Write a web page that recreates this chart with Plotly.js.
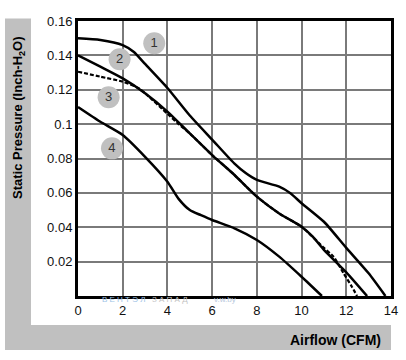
<!DOCTYPE html>
<html>
<head>
<meta charset="utf-8">
<script src="https://cdn.plot.ly/plotly-3.0.1.min.js"></script>
<style>html,body{margin:0;padding:0;background:#fff;}#chart{width:406px;height:360px;}</style>
</head>
<body>
<div id="chart"></div>
<script>
// Curve 1
const x1 = [0, 1, 2, 2.5, 3, 4, 5, 6, 7, 7.5, 8, 9, 9.5, 10, 11, 12, 13, 13.75];
const y1 = [0.150, 0.149, 0.146, 0.142, 0.135, 0.121, 0.105, 0.091, 0.077, 0.0715, 0.0675, 0.0636, 0.0598, 0.054, 0.0432, 0.028, 0.0132, 0];
// Curve 2
const x2 = [0, 1, 2, 3, 4, 5, 6, 7, 8, 9, 10, 10.5, 11, 12, 12.93];
const y2 = [0.140, 0.1334, 0.1266, 0.118, 0.1073, 0.0946, 0.082, 0.0704, 0.0578, 0.048, 0.0403, 0.0345, 0.0268, 0.0138, 0];
// Curve 3 (dashed)
const x3 = [0, 1, 2, 2.7, 3, 4, 4.5, 5, 6, 7, 8, 9, 10, 11, 11.43, 11.88, 12.25, 12.48];
const y3 = [0.1305, 0.1276, 0.1247, 0.121, 0.118, 0.106, 0.1, 0.0946, 0.082, 0.0704, 0.0578, 0.048, 0.0403, 0.028, 0.0229, 0.0132, 0.0054, 0];
// Curve 4
const x4 = [0, 1, 2, 3, 4, 4.5, 5, 5.5, 6, 7, 8, 9, 10, 10.91];
const y4 = [0.110, 0.1014, 0.0937, 0.081, 0.0665, 0.0565, 0.050, 0.047, 0.0442, 0.0394, 0.0326, 0.0229, 0.0112, 0];
// Curve labels
const labelX = [3.41, 1.86, 1.37, 1.52];
const labelY = [0.147, 0.1377, 0.1156, 0.0859];
const labelText = ['1', '2', '3', '4'];
// Ticks
const xTicks = [0, 2, 4, 6, 8, 10, 12, 14];
const yTicks = [0.02, 0.04, 0.06, 0.08, 0.1, 0.12, 0.14, 0.16];
const yTickText = ['0.02', '0.04', '0.06', '0.08', '0.1', '0.12', '0.14', '0.16'];

const lineStyle = {color: '#000', width: 2.5, shape: 'spline', smoothing: 0.6};
const traces = [
  {x: x3, y: y3, mode: 'lines', line: Object.assign({}, lineStyle, {dash: '4px,2px', width: 2.2}), hoverinfo: 'skip'},
  {x: x1, y: y1, mode: 'lines', line: lineStyle, hoverinfo: 'skip'},
  {x: x2, y: y2, mode: 'lines', line: lineStyle, hoverinfo: 'skip'},
  {x: x4, y: y4, mode: 'lines', line: lineStyle, hoverinfo: 'skip'},
  {x: labelX, y: labelY, mode: 'markers+text', text: labelText, textposition: 'middle center',
   marker: {size: 22, color: '#c0c0c0', line: {width: 0}},
   textfont: {family: 'Liberation Sans, Arial, sans-serif', size: 13, color: '#333'}, hoverinfo: 'skip'}
];

const fontTick = {family: 'Liberation Sans, Arial, sans-serif', size: 13, color: '#111'};
const L = 78, R = 15, T = 21, B = 64, W = 406 - L - R, H = 360 - T - B;
const px = v => (v - L) / W;
const py = v => (360 - B - v) / H;

const layout = {
  width: 406, height: 360,
  margin: {l: L, r: R, t: T, b: B, pad: 0},
  paper_bgcolor: '#fff', plot_bgcolor: '#fff',
  showlegend: false,
  xaxis: {range: [0, 14], tickvals: xTicks, ticks: '', showgrid: true, gridcolor: '#7a7a7a', gridwidth: 2,
          zeroline: false, showline: true, linecolor: '#000', linewidth: 3, mirror: true,
          tickfont: fontTick, ticklen: 0, fixedrange: true},
  yaxis: {range: [0, 0.16], tickvals: yTicks, ticktext: yTickText, ticks: '', showgrid: true, gridcolor: '#7a7a7a', gridwidth: 2,
          zeroline: false, showline: true, linecolor: '#000', linewidth: 3, mirror: true,
          tickfont: fontTick, fixedrange: true},
  shapes: [
    {type: 'rect', xref: 'paper', yref: 'paper', x0: px(5), x1: px(31), y0: py(350), y1: py(18.5),
     fillcolor: '#c0c0c0', line: {width: 0}, layer: 'below'},
    {type: 'rect', xref: 'paper', yref: 'paper', x0: px(5), x1: px(391), y0: py(350), y1: py(325),
     fillcolor: '#c0c0c0', line: {width: 0}, layer: 'below'}
  ],
  annotations: [
    {xref: 'paper', yref: 'paper', x: px(18), y: py(118), text: '<b>Static Pressure (Inch-H<sub>2</sub>O)</b>',
     textangle: -90, showarrow: false, xanchor: 'center', yanchor: 'middle',
     font: {family: 'Liberation Sans, Arial, sans-serif', size: 13, color: '#000'}},
    {xref: 'paper', yref: 'paper', x: px(383), y: py(340), text: '<b>Airflow (CFM)</b>',
     showarrow: false, xanchor: 'right', yanchor: 'middle',
     font: {family: 'Liberation Sans, Arial, sans-serif', size: 14, color: '#000'}},
    {xref: 'paper', yref: 'paper', x: px(100), y: py(299), text: 'В Е Н Т Э Л',
     showarrow: false, xanchor: 'left', yanchor: 'middle',
     font: {family: 'Liberation Sans, Arial, sans-serif', size: 8, color: '#9dc3e6'}},
    {xref: 'paper', yref: 'paper', x: px(150), y: py(299), text: 'З А П А Д',
     showarrow: false, xanchor: 'left', yanchor: 'middle',
     font: {family: 'Liberation Sans, Arial, sans-serif', size: 8, color: '#c4c4c4'}},
    {xref: 'paper', yref: 'paper', x: px(212), y: py(299), text: 'v.w.by',
     showarrow: false, xanchor: 'left', yanchor: 'middle',
     font: {family: 'Liberation Sans, Arial, sans-serif', size: 8, color: '#b8c8dc'}}
  ]
};

Plotly.newPlot('chart', traces, layout, {displayModeBar: false, staticPlot: true});
</script>
</body>
</html>
